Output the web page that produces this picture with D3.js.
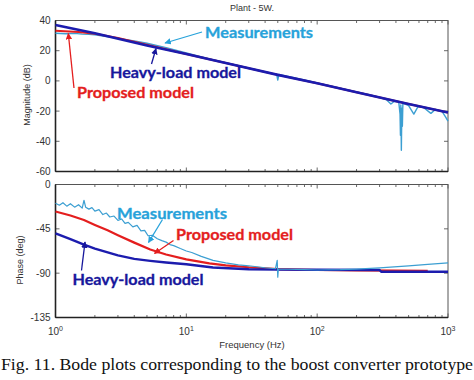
<!DOCTYPE html>
<html><head><meta charset="utf-8">
<script src="https://cdn.jsdelivr.net/npm/d3@7"></script>
<style>body{margin:0;background:#fff}svg{display:block}</style>
</head><body>
<script>
// ---------- data ----------
const magTicks = [40, 20, 0, -20, -40, -60];
const phaseTicks = [0, -45, -90, -135];
const freqDecades = [1, 10, 100, 1000];

const magHeavy = [[1,37],[2,31.5],[5,23.5],[10,17.8],[20,11.8],[50,4],[100,-1.6],[200,-7.5],[500,-15.3],[1000,-20.9]];
const magProposed = [[1,33.2],[1.5,32.4],[2,31.2],[3,28.5],[5,24],[7,21],[10,17.8],[20,11.8],[50,4],[100,-1.6],[200,-7.5],[500,-15.3],[1000,-20.9]];
const magMeas = [[1,31.6],[1.2,31.2],[1.4,31.5],[1.6,31],[1.8,30.8],[2,30.5],[3,28.2],[4,26.4],[5,24.9],[7,22],[10,18.6],[15,14.6],[20,12],[30,8.4],[45,5],[49,4.5],[50,0.5],[51,4.3],[60,3],[80,0.6],[100,-1.3],[150,-4.8],[200,-7.3],[250,-9.2],[300,-10.9],[340,-12.6],[366,-15.3],[390,-13.5],[420,-13.8],[430,-22],[433,-36],[436,-16],[440,-46],[444,-18],[448,-30],[452,-15],[470,-15.4],[500,-16.3],[548,-22],[590,-17],[650,-17.6],[740,-21.5],[800,-18.9],[900,-20.2],[960,-24],[1000,-26.6]];

const phHeavy = [[1,-49.7],[1.3,-55.5],[1.65,-61],[2,-65],[3,-72],[4,-75.5],[5.3,-77.5],[7,-79.2],[10,-81],[16,-84.3],[30,-86],[50,-86.4],[100,-86.6],[300,-86.8],[310,-88.6],[1000,-88.6]];
const phProposed = [[1,-27.4],[1.3,-31.5],[1.65,-36],[2,-41],[2.5,-46.5],[3,-51.5],[4,-59],[5.3,-66],[7,-71],[10,-76],[15,-80],[20,-82],[30,-84],[50,-85.8],[100,-86.8],[200,-87.2],[400,-87.5],[700,-87.7]];
const phMeas = [[1,-19],[1.07,-21],[1.14,-18.5],[1.22,-22],[1.3,-19.5],[1.4,-23],[1.5,-20.5],[1.6,-24],[1.65,-16],[1.7,-23],[1.8,-25],[1.9,-23.5],[2,-27],[2.15,-25.5],[2.3,-30.5],[2.45,-29],[2.6,-33],[2.8,-32],[3,-36.5],[3.2,-35],[3.4,-39.5],[3.6,-38.5],[3.9,-43],[4.2,-41.5],[4.5,-47],[4.8,-46.5],[5.1,-52],[5.5,-51.5],[6,-55],[6.5,-57],[7,-58.5],[7.5,-61],[8,-62],[9,-65],[10,-67.5],[11,-69],[13,-73],[16,-77],[20,-79.5],[25,-81.5],[30,-82.5],[40,-84.5],[48,-85.5],[49.5,-77],[50,-94],[50.5,-86],[60,-86],[80,-86.5],[100,-86.8],[150,-86.5],[200,-85.8],[300,-84.6],[500,-82.6],[700,-81],[1000,-79.6]];

// ---------- layout ----------
const W = 474, H = 380;
const svg = d3.select("body").append("svg").attr("width", W).attr("height", H)
  .style("font-family", "'Liberation Sans', Arial, sans-serif");

const x = d3.scaleLog().domain([1, 1000]).range([55.5, 448]);
const yMag = d3.scaleLinear().domain([-60, 40]).range([171.5, 20.5]);
const yPh = d3.scaleLinear().domain([-135, 0]).range([317.5, 184.5]);

const C_MEAS = "#3c9fd2", C_MEAS_T = "#27a2da";
const C_HEAVY = "#1c1cae", C_HEAVY_T = "#17179c";
const C_RED = "#e41e1e";

function panel(y, yTicks, showX) {
  const g = svg.append("g");
  const [y0, y1] = y.range();
  const [x0, x1] = x.range();
  const minors = [];
  for (let d = 1; d < 1000; d *= 10) for (let k = 2; k <= 9; k++) minors.push(d * k);
  [y0, y1].forEach((yy, i) => {
    const dir = i === 0 ? -1 : 1;
    minors.forEach(f => g.append("line").attr("x1", x(f)).attr("x2", x(f))
      .attr("y1", yy).attr("y2", yy + dir * 2.5).attr("stroke", "#444").attr("stroke-width", 0.8));
    freqDecades.forEach(f => g.append("line").attr("x1", x(f)).attr("x2", x(f))
      .attr("y1", yy).attr("y2", yy + dir * 4).attr("stroke", "#444").attr("stroke-width", 0.8));
  });
  yTicks.forEach(t => {
    g.append("line").attr("x1", x0).attr("x2", x0 + 4).attr("y1", y(t)).attr("y2", y(t)).attr("stroke", "#444").attr("stroke-width", 0.8);
    g.append("line").attr("x1", x1).attr("x2", x1 - 4).attr("y1", y(t)).attr("y2", y(t)).attr("stroke", "#444").attr("stroke-width", 0.8);
    g.append("text").attr("x", x0 - 5).attr("y", y(t) + 3.5).attr("text-anchor", "end")
      .attr("font-size", 10).attr("fill", "#333").text(t);
  });
  g.append("rect").attr("x", x0).attr("y", y1).attr("width", x1 - x0).attr("height", y0 - y1)
    .attr("fill", "none").attr("stroke", "#555").attr("stroke-width", 1);
  g.append("line").attr("x1", x0).attr("x2", x0).attr("y1", y1).attr("y2", y0).attr("stroke", "#222").attr("stroke-width", 1.6);
  g.append("line").attr("x1", x0).attr("x2", x1).attr("y1", y0).attr("y2", y0).attr("stroke", "#222").attr("stroke-width", 1.6);
  if (showX) {
    freqDecades.forEach((f, i) => {
      const t = g.append("text").attr("x", x(f)).attr("y", y0 + 17).attr("text-anchor", "middle")
        .attr("font-size", 10).attr("fill", "#333");
      t.append("tspan").text("10");
      t.append("tspan").attr("dy", -4).attr("font-size", 7).text(i);
    });
  }
  return g;
}

panel(yMag, magTicks, false);
panel(yPh, phaseTicks, true);

function drawLine(data, y, color, w) {
  const line = d3.line().x(d => x(d[0])).y(d => y(d[1]));
  svg.append("path").datum(data).attr("d", line).attr("fill", "none")
    .attr("stroke", color).attr("stroke-width", w).attr("stroke-linejoin", "round");
}
drawLine(magMeas, yMag, C_MEAS, 1.4);
drawLine(magProposed, yMag, C_RED, 2);
drawLine(magHeavy, yMag, C_HEAVY, 2.6);
drawLine(phProposed, yPh, C_RED, 2.2);
drawLine(phHeavy, yPh, C_HEAVY, 2.4);
drawLine(phMeas, yPh, C_MEAS, 1.2);

// titles
svg.append("text").attr("x", 252).attr("y", 11).attr("text-anchor", "middle").attr("font-size", 9).attr("fill", "#333").text("Plant - 5W.");
svg.append("text").attr("transform", "translate(30,95) rotate(-90)").attr("text-anchor", "middle").attr("font-size", 9).attr("fill", "#333").text("Magnitude (dB)");
svg.append("text").attr("transform", "translate(23,260) rotate(-90)").attr("text-anchor", "middle").attr("font-size", 9).attr("fill", "#333").text("Phase (deg)");
svg.append("text").attr("x", 252).attr("y", 348).attr("text-anchor", "middle").attr("font-size", 9.5).attr("fill", "#333").text("Frequency  (Hz)");

// annotations
const defs = svg.append("defs");
function marker(id, color) {
  defs.append("marker").attr("id", id).attr("viewBox", "0 0 10 10").attr("refX", 9).attr("refY", 5)
    .attr("markerWidth", 5).attr("markerHeight", 5).attr("orient", "auto")
    .append("path").attr("d", "M0,0L10,5L0,10z").attr("fill", color);
}
marker("mM", C_MEAS_T); marker("mH", C_HEAVY_T); marker("mR", C_RED);
function label(txt, x0, base, width, color) {
  svg.append("text").attr("x", x0).attr("y", base).attr("font-family", "Lato, 'Open Sans', sans-serif")
    .attr("font-weight", "bold").attr("font-size", 15).attr("fill", color)
    .attr("stroke", color).attr("stroke-width", 0.3)
    .attr("textLength", width).attr("lengthAdjust", "spacingAndGlyphs").text(txt);
}
function arrow(x1, y1, x2, y2, color, m) {
  svg.append("line").attr("x1", x1).attr("y1", y1).attr("x2", x2).attr("y2", y2)
    .attr("stroke", color).attr("stroke-width", 1.3).attr("marker-end", `url(#${m})`);
}
label("Measurements", 205, 37.5, 108, C_MEAS_T);
arrow(202, 32, 165, 43, C_MEAS_T, "mM");
label("Heavy-load model", 110, 77.5, 131, C_HEAVY_T);
arrow(151.5, 64, 156, 48.5, C_HEAVY_T, "mH");
label("Proposed model", 77, 97.5, 117, C_RED);
arrow(74, 88, 68.3, 33.5, C_RED, "mR");
label("Measurements", 117, 218.5, 110, C_MEAS_T);
arrow(162.5, 219.5, 148.5, 242.5, C_MEAS_T, "mM");
label("Proposed model", 176, 239.5, 117, C_RED);
arrow(173.5, 240.5, 154.5, 253.5, C_RED, "mR");
label("Heavy-load model", 72.5, 284.5, 131, C_HEAVY_T);
arrow(81.5, 270.5, 85, 242, C_HEAVY_T, "mH");

// caption
svg.append("text").attr("x", 1).attr("y", 370).attr("font-family", "'Liberation Serif', 'Times New Roman', serif")
  .attr("font-size", 16).attr("fill", "#111").attr("textLength", 472).attr("lengthAdjust", "spacingAndGlyphs")
  .text("Fig. 11. Bode plots corresponding to the boost converter prototype");
</script>
</body></html>
